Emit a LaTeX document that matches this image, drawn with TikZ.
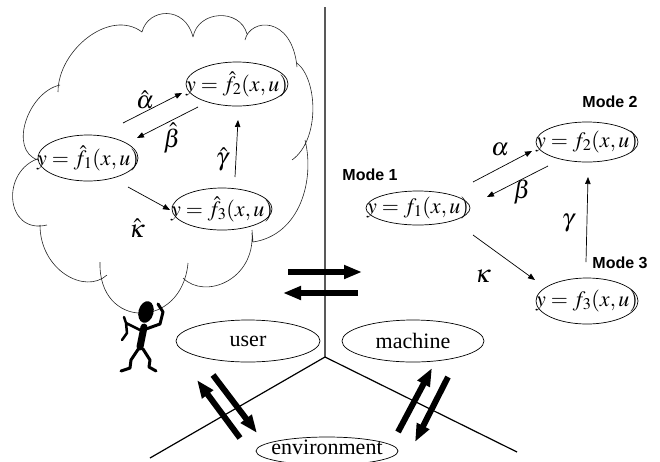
\documentclass[tikz,border=0pt]{standalone}
\usepackage{mathptmx}
\usepackage{fontspec}
\setmainfont{Liberation Serif}
\newfontfamily\labelsans{Liberation Sans}
\usetikzlibrary{shapes.geometric,arrows.meta}

\begin{document}
\begin{tikzpicture}[x=1pt,y=-1pt,
  every node/.style={inner sep=0pt,outer sep=0pt},
  oval/.style={ellipse,draw,line width=0.7pt,fill=white},
  eqn/.style={font=\fontsize{22}{26}\selectfont},
  word/.style={font=\fontsize{22}{26}\selectfont},
  tag/.style={font=\labelsans\bfseries\fontsize{16}{18}\selectfont},
  rate/.style={font=\fontsize{25}{29}\selectfont},
  trans/.style={line width=0.7pt,-{Triangle[length=7pt,width=5.5pt]}},
  flow/.style={line width=6pt,-{Triangle[length=18pt,width=13pt]}},
  divider/.style={line width=1.2pt},
  puff/.style={line width=0.6pt,draw=black!85},
  limb/.style={line cap=round,line join=round},
]
\useasboundingbox (0,0) rectangle (660,461);

% ---------- thought cloud ----------
\draw[puff]
  (60,85) .. controls (28,92) and (8,150) .. (38,160)
  (58,92) .. controls (58,50) and (110,8) .. (142,32)
  (142,32) .. controls (148,8) and (185,5) .. (193,37)
  (193,37) .. controls (198,10) and (240,8) .. (247,34)
  (245,40) .. controls (250,18) and (292,15) .. (297,67)
  (297,63) .. controls (318,80) and (320,140) .. (292,160)
  (305,140) .. controls (315,180) and (300,235) .. (253,242)
  (252,230) -- (253,242)
  (252,233) .. controls (255,280) and (205,300) .. (183,278)
  (188,263) .. controls (182,330) and (98,330) .. (100,262)
  (107,275) .. controls (85,295) and (40,270) .. (40,225)
  (47,225) .. controls (5,235) and (0,170) .. (40,158);

% ---------- the user's mental model ----------
\node[oval,minimum width=100pt,minimum height=46pt] (h1) at (88,158) {};
\node[oval,minimum width=102pt,minimum height=44pt] (h2) at (237,84) {};
\node[oval,minimum width=100pt,minimum height=42pt] (h3) at (222,209) {};
\node[eqn] (h1t) at (h1) {$y=\hat{f}_1(x,u)$};
\node[eqn] (h2t) at (h2) {$y=\hat{f}_2(x,u)$};
\node[eqn] (h3t) at (h3) {$y=\hat{f}_3(x,u)$};

\coordinate (ha0) at (123,123); \coordinate (ha1) at (182,93);
\coordinate (hb0) at (198,107); \coordinate (hb1) at (137,138);
\coordinate (hg0) at (235,177); \coordinate (hg1) at (238,120);
\coordinate (hk0) at (128,187); \coordinate (hk1) at (170,210);
\draw[trans] (ha0) -- (ha1);
\draw[trans] (hb0) -- (hb1);
\draw[trans] (hg0) -- (hg1);
\draw[trans] (hk0) -- (hk1);
\node[rate] (lha) at (145,100) {$\hat{\alpha}$};
\node[rate] (lhb) at (172,138) {$\hat{\beta}$};
\node[rate] (lhg) at (222,159) {$\hat{\gamma}$};
\node[rate] (lhk) at (137,228) {$\hat{\kappa}$};

% ---------- the machine's actual modes ----------
\node[oval,minimum width=104pt,minimum height=34pt] (m1) at (418,208) {};
\node[oval,minimum width=102pt,minimum height=40pt] (m2) at (587,142) {};
\node[oval,minimum width=102pt,minimum height=46pt] (m3) at (587,301) {};
\node[eqn] (m1t) at (m1) {$y=f_1(x,u)$};
\node[eqn] (m2t) at (m2) {$y=f_2(x,u)$};
\node[eqn] (m3t) at (m3) {$y=f_3(x,u)$};
\node[tag] (t1) at (370,175) {Mode 1};
\node[tag] (t2) at (610,102) {Mode 2};
\node[tag] (t3) at (620,263) {Mode 3};

\coordinate (ma0) at (473,182); \coordinate (ma1) at (532,151);
\coordinate (mb0) at (548,166); \coordinate (mb1) at (487,197);
\coordinate (mg0) at (586,262); \coordinate (mg1) at (588,177);
\coordinate (mk0) at (473,235); \coordinate (mk1) at (535,280);
\draw[trans] (ma0) -- (ma1);
\draw[trans] (mb0) -- (mb1);
\draw[trans] (mg0) -- (mg1);
\draw[trans] (mk0) -- (mk1);
\node[rate] (la) at (500,150) {$\alpha$};
\node[rate] (lb) at (522,192) {$\beta$};
\node[rate] (lg) at (568,223) {$\gamma$};
\node[rate] (lk) at (483,276) {$\kappa$};

% ---------- three-way partition ----------
\coordinate (hub) at (325,357);
\coordinate (top) at (325,7);
\coordinate (sw) at (150,458);
\coordinate (se) at (517,452);
\draw[divider] (top) -- (hub) (sw) -- (hub) -- (se);

\node[oval,minimum width=144pt,minimum height=42pt] (user) at (248,341) {};
\node[oval,minimum width=142pt,minimum height=42pt] (mach) at (413,341) {};
\node[oval,minimum width=142pt,minimum height=28pt] (env) at (327,451) {};
\node[word] (usert) at (user) {user};
\node[word] (macht) at (mach) {machine};
\node[word,anchor=base] (envt) at (327,454) {environment};

% ---------- exchanges across the partition ----------
\coordinate (um0) at (288,272); \coordinate (um1) at (362,272);
\coordinate (mu0) at (358,293); \coordinate (mu1) at (283,293);
\coordinate (eu0) at (240,438); \coordinate (eu1) at (197,380);
\coordinate (ue0) at (213,375); \coordinate (ue1) at (257,433);
\coordinate (em0) at (398,432); \coordinate (em1) at (432,368);
\coordinate (me0) at (448,377); \coordinate (me1) at (415,442);
\draw[flow] (um0) -- (um1);
\draw[flow] (mu0) -- (mu1);
\draw[flow] (eu0) -- (eu1);
\draw[flow] (ue0) -- (ue1);
\draw[flow] (em0) -- (em1);
\draw[flow] (me0) -- (me1);

% ---------- the puzzled user ----------
\fill[rotate around={-15:(146,312)}] (146,312) ellipse [x radius=7.5, y radius=11];
\draw[limb,line width=7pt] (144,327) .. controls (142,337) .. (140,347);
\draw[limb,line width=3pt] (146,329) -- (160,324) -- (163,312) -- (158,304);
\draw[limb,line width=2.5pt] (140,330) -- (126,323) -- (124,317)
                              (126,323) -- (127,333) -- (122,340);
\draw[limb,line width=3pt] (139,348) -- (131,360) -- (130,368) -- (121,371);
\draw[limb,line width=3pt] (143,349) -- (150,360) -- (149,367) -- (156,371);
\end{tikzpicture}
\end{document}
